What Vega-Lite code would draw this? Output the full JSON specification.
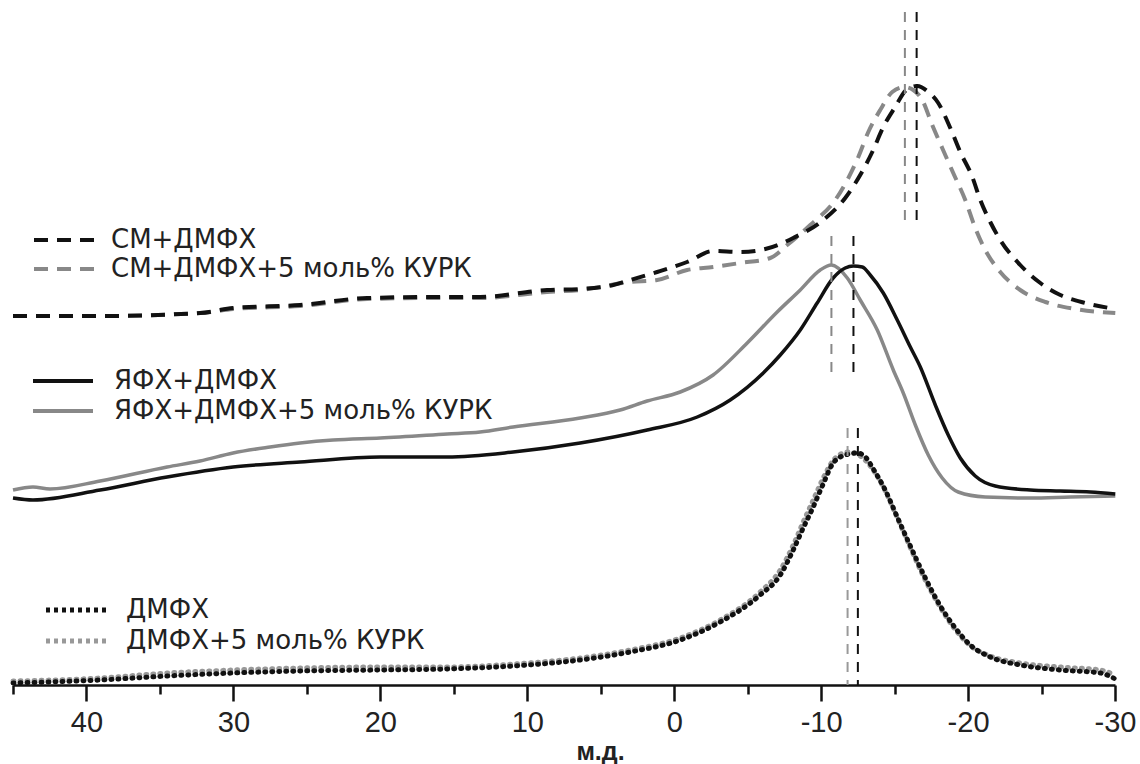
{
  "$schema": "https://vega.github.io/schema/vega-lite/v6.json",
  "width": 1102,
  "height": 685,
  "autosize": {"type": "none"},
  "padding": {"left": 13, "top": 0, "right": 25, "bottom": 79},
  "background": "white",
  "config": {"view": {"stroke": null}},
  "datasets": {
    "spectra": [
      {"g":"A","series":"СМ+ДМФХ+5 моль% КУРК","ppm":45.0,"intensity":369},
      {"g":"A","series":"СМ+ДМФХ+5 моль% КУРК","ppm":39.07,"intensity":369},
      {"g":"A","series":"СМ+ДМФХ+5 моль% КУРК","ppm":32.27,"intensity":372},
      {"g":"A","series":"СМ+ДМФХ+5 моль% КУРК","ppm":30.02,"intensity":376},
      {"g":"A","series":"СМ+ДМФХ+5 моль% КУРК","ppm":25.46,"intensity":379},
      {"g":"A","series":"СМ+ДМФХ+5 моль% КУРК","ppm":20.9,"intensity":386},
      {"g":"A","series":"СМ+ДМФХ+5 моль% КУРК","ppm":16.61,"intensity":387},
      {"g":"A","series":"СМ+ДМФХ+5 моль% КУРК","ppm":13.21,"intensity":387},
      {"g":"A","series":"СМ+ДМФХ+5 моль% КУРК","ppm":8.65,"intensity":393},
      {"g":"A","series":"СМ+ДМФХ+5 моль% КУРК","ppm":6.4,"intensity":395},
      {"g":"A","series":"СМ+ДМФХ+5 моль% КУРК","ppm":3.0,"intensity":403},
      {"g":"A","series":"СМ+ДМФХ+5 моль% КУРК","ppm":1.16,"intensity":405},
      {"g":"A","series":"СМ+ДМФХ+5 моль% КУРК","ppm":-0.88,"intensity":415},
      {"g":"A","series":"СМ+ДМФХ+5 моль% КУРК","ppm":-2.65,"intensity":418},
      {"g":"A","series":"СМ+ДМФХ+5 моль% КУРК","ppm":-4.49,"intensity":422},
      {"g":"A","series":"СМ+ДМФХ+5 моль% КУРК","ppm":-6.54,"intensity":427},
      {"g":"A","series":"СМ+ДМФХ+5 моль% КУРК","ppm":-7.69,"intensity":440},
      {"g":"A","series":"СМ+ДМФХ+5 моль% КУРК","ppm":-9.26,"intensity":460},
      {"g":"A","series":"СМ+ДМФХ+5 моль% КУРК","ppm":-10.96,"intensity":485},
      {"g":"A","series":"СМ+ДМФХ+5 моль% КУРК","ppm":-11.78,"intensity":505},
      {"g":"A","series":"СМ+ДМФХ+5 моль% КУРК","ppm":-12.53,"intensity":528},
      {"g":"A","series":"СМ+ДМФХ+5 моль% КУРК","ppm":-13.21,"intensity":553},
      {"g":"A","series":"СМ+ДМФХ+5 моль% КУРК","ppm":-14.02,"intensity":575},
      {"g":"A","series":"СМ+ДМФХ+5 моль% КУРК","ppm":-14.84,"intensity":593},
      {"g":"A","series":"СМ+ДМФХ+5 моль% КУРК","ppm":-15.66,"intensity":598},
      {"g":"A","series":"СМ+ДМФХ+5 моль% КУРК","ppm":-16.27,"intensity":595},
      {"g":"A","series":"СМ+ДМФХ+5 моль% КУРК","ppm":-16.88,"intensity":585},
      {"g":"A","series":"СМ+ДМФХ+5 моль% КУРК","ppm":-17.56,"intensity":560},
      {"g":"A","series":"СМ+ДМФХ+5 моль% КУРК","ppm":-18.24,"intensity":537},
      {"g":"A","series":"СМ+ДМФХ+5 моль% КУРК","ppm":-18.99,"intensity":512},
      {"g":"A","series":"СМ+ДМФХ+5 моль% КУРК","ppm":-19.81,"intensity":485},
      {"g":"A","series":"СМ+ДМФХ+5 моль% КУРК","ppm":-20.49,"intensity":457},
      {"g":"A","series":"СМ+ДМФХ+5 моль% КУРК","ppm":-21.17,"intensity":435},
      {"g":"A","series":"СМ+ДМФХ+5 моль% КУРК","ppm":-22.19,"intensity":413},
      {"g":"A","series":"СМ+ДМФХ+5 моль% КУРК","ppm":-23.55,"intensity":395},
      {"g":"A","series":"СМ+ДМФХ+5 моль% КУРК","ppm":-25.26,"intensity":383},
      {"g":"A","series":"СМ+ДМФХ+5 моль% КУРК","ppm":-27.3,"intensity":376},
      {"g":"A","series":"СМ+ДМФХ+5 моль% КУРК","ppm":-30.02,"intensity":372},

      {"g":"A","series":"СМ+ДМФХ","ppm":45.0,"intensity":369},
      {"g":"A","series":"СМ+ДМФХ","ppm":39.07,"intensity":369},
      {"g":"A","series":"СМ+ДМФХ","ppm":32.27,"intensity":372},
      {"g":"A","series":"СМ+ДМФХ","ppm":30.02,"intensity":377},
      {"g":"A","series":"СМ+ДМФХ","ppm":25.46,"intensity":380},
      {"g":"A","series":"СМ+ДМФХ","ppm":20.9,"intensity":387},
      {"g":"A","series":"СМ+ДМФХ","ppm":16.61,"intensity":388},
      {"g":"A","series":"СМ+ДМФХ","ppm":13.21,"intensity":388},
      {"g":"A","series":"СМ+ДМФХ","ppm":8.65,"intensity":395},
      {"g":"A","series":"СМ+ДМФХ","ppm":6.4,"intensity":396},
      {"g":"A","series":"СМ+ДМФХ","ppm":4.15,"intensity":400},
      {"g":"A","series":"СМ+ДМФХ","ppm":3.0,"intensity":405},
      {"g":"A","series":"СМ+ДМФХ","ppm":1.16,"intensity":413},
      {"g":"A","series":"СМ+ДМФХ","ppm":-0.88,"intensity":423},
      {"g":"A","series":"СМ+ДМФХ","ppm":-2.65,"intensity":434},
      {"g":"A","series":"СМ+ДМФХ","ppm":-4.49,"intensity":433},
      {"g":"A","series":"СМ+ДМФХ","ppm":-6.2,"intensity":436},
      {"g":"A","series":"СМ+ДМФХ","ppm":-8.1,"intensity":447},
      {"g":"A","series":"СМ+ДМФХ","ppm":-10.14,"intensity":465},
      {"g":"A","series":"СМ+ДМФХ","ppm":-11.64,"intensity":487},
      {"g":"A","series":"СМ+ДМФХ","ppm":-12.66,"intensity":510},
      {"g":"A","series":"СМ+ДМФХ","ppm":-13.48,"intensity":533},
      {"g":"A","series":"СМ+ДМФХ","ppm":-14.23,"intensity":558},
      {"g":"A","series":"СМ+ДМФХ","ppm":-15.04,"intensity":578},
      {"g":"A","series":"СМ+ДМФХ","ppm":-15.79,"intensity":595},
      {"g":"A","series":"СМ+ДМФХ","ppm":-16.54,"intensity":599},
      {"g":"A","series":"СМ+ДМФХ","ppm":-17.29,"intensity":593},
      {"g":"A","series":"СМ+ДМФХ","ppm":-17.97,"intensity":582},
      {"g":"A","series":"СМ+ДМФХ","ppm":-18.79,"intensity":557},
      {"g":"A","series":"СМ+ДМФХ","ppm":-19.47,"intensity":533},
      {"g":"A","series":"СМ+ДМФХ","ppm":-20.29,"intensity":508},
      {"g":"A","series":"СМ+ДМФХ","ppm":-20.83,"intensity":485},
      {"g":"A","series":"СМ+ДМФХ","ppm":-21.51,"intensity":463},
      {"g":"A","series":"СМ+ДМФХ","ppm":-22.19,"intensity":445},
      {"g":"A","series":"СМ+ДМФХ","ppm":-23.55,"intensity":420},
      {"g":"A","series":"СМ+ДМФХ","ppm":-24.92,"intensity":402},
      {"g":"A","series":"СМ+ДМФХ","ppm":-26.28,"intensity":390},
      {"g":"A","series":"СМ+ДМФХ","ppm":-27.98,"intensity":382},
      {"g":"A","series":"СМ+ДМФХ","ppm":-30.02,"intensity":376},

      {"g":"B","series":"ЯФХ+ДМФХ+5 моль% КУРК","ppm":45.0,"intensity":195},
      {"g":"B","series":"ЯФХ+ДМФХ+5 моль% КУРК","ppm":43.64,"intensity":198},
      {"g":"B","series":"ЯФХ+ДМФХ+5 моль% КУРК","ppm":42.48,"intensity":196},
      {"g":"B","series":"ЯФХ+ДМФХ+5 моль% КУРК","ppm":39.07,"intensity":204},
      {"g":"B","series":"ЯФХ+ДМФХ+5 моль% КУРК","ppm":34.51,"intensity":218},
      {"g":"B","series":"ЯФХ+ДМФХ+5 моль% КУРК","ppm":32.27,"intensity":224},
      {"g":"B","series":"ЯФХ+ДМФХ+5 моль% КУРК","ppm":30.02,"intensity":232},
      {"g":"B","series":"ЯФХ+ДМФХ+5 моль% КУРК","ppm":27.5,"intensity":238},
      {"g":"B","series":"ЯФХ+ДМФХ+5 моль% КУРК","ppm":25.46,"intensity":242},
      {"g":"B","series":"ЯФХ+ДМФХ+5 моль% КУРК","ppm":23.21,"intensity":245},
      {"g":"B","series":"ЯФХ+ДМФХ+5 моль% КУРК","ppm":20.01,"intensity":247},
      {"g":"B","series":"ЯФХ+ДМФХ+5 моль% КУРК","ppm":15.45,"intensity":251},
      {"g":"B","series":"ЯФХ+ДМФХ+5 моль% КУРК","ppm":13.21,"intensity":253},
      {"g":"B","series":"ЯФХ+ДМФХ+5 моль% КУРК","ppm":10.96,"intensity":258},
      {"g":"B","series":"ЯФХ+ДМФХ+5 моль% КУРК","ppm":6.4,"intensity":267},
      {"g":"B","series":"ЯФХ+ДМФХ+5 моль% КУРК","ppm":3.68,"intensity":275},
      {"g":"B","series":"ЯФХ+ДМФХ+5 моль% КУРК","ppm":1.84,"intensity":284},
      {"g":"B","series":"ЯФХ+ДМФХ+5 моль% КУРК","ppm":-0.41,"intensity":293},
      {"g":"B","series":"ЯФХ+ДМФХ+5 моль% КУРК","ppm":-2.65,"intensity":310},
      {"g":"B","series":"ЯФХ+ДМФХ+5 моль% КУРК","ppm":-4.97,"intensity":342},
      {"g":"B","series":"ЯФХ+ДМФХ+5 моль% КУРК","ppm":-7.01,"intensity":373},
      {"g":"B","series":"ЯФХ+ДМФХ+5 моль% КУРК","ppm":-8.58,"intensity":395},
      {"g":"B","series":"ЯФХ+ДМФХ+5 моль% КУРК","ppm":-9.94,"intensity":415},
      {"g":"B","series":"ЯФХ+ДМФХ+5 моль% КУРК","ppm":-10.69,"intensity":420},
      {"g":"B","series":"ЯФХ+ДМФХ+5 моль% КУРК","ppm":-11.78,"intensity":407},
      {"g":"B","series":"ЯФХ+ДМФХ+5 моль% КУРК","ppm":-12.66,"intensity":385},
      {"g":"B","series":"ЯФХ+ДМФХ+5 моль% КУРК","ppm":-13.82,"intensity":355},
      {"g":"B","series":"ЯФХ+ДМФХ+5 моль% КУРК","ppm":-14.91,"intensity":315},
      {"g":"B","series":"ЯФХ+ДМФХ+5 моль% КУРК","ppm":-15.59,"intensity":292},
      {"g":"B","series":"ЯФХ+ДМФХ+5 моль% КУРК","ppm":-16.41,"intensity":260},
      {"g":"B","series":"ЯФХ+ДМФХ+5 моль% КУРК","ppm":-17.29,"intensity":230},
      {"g":"B","series":"ЯФХ+ДМФХ+5 моль% КУРК","ppm":-18.24,"intensity":207},
      {"g":"B","series":"ЯФХ+ДМФХ+5 моль% КУРК","ppm":-19.33,"intensity":193},
      {"g":"B","series":"ЯФХ+ДМФХ+5 моль% КУРК","ppm":-21.17,"intensity":188},
      {"g":"B","series":"ЯФХ+ДМФХ+5 моль% КУРК","ppm":-24.23,"intensity":187},
      {"g":"B","series":"ЯФХ+ДМФХ+5 моль% КУРК","ppm":-26.96,"intensity":188},
      {"g":"B","series":"ЯФХ+ДМФХ+5 моль% КУРК","ppm":-30.02,"intensity":189},

      {"g":"B","series":"ЯФХ+ДМФХ","ppm":45.0,"intensity":187},
      {"g":"B","series":"ЯФХ+ДМФХ","ppm":43.64,"intensity":185},
      {"g":"B","series":"ЯФХ+ДМФХ","ppm":39.07,"intensity":195},
      {"g":"B","series":"ЯФХ+ДМФХ","ppm":34.51,"intensity":208},
      {"g":"B","series":"ЯФХ+ДМФХ","ppm":30.02,"intensity":218},
      {"g":"B","series":"ЯФХ+ДМФХ","ppm":25.46,"intensity":223},
      {"g":"B","series":"ЯФХ+ДМФХ","ppm":20.01,"intensity":228},
      {"g":"B","series":"ЯФХ+ДМФХ","ppm":15.45,"intensity":228},
      {"g":"B","series":"ЯФХ+ДМФХ","ppm":10.96,"intensity":233},
      {"g":"B","series":"ЯФХ+ДМФХ","ppm":6.4,"intensity":242},
      {"g":"B","series":"ЯФХ+ДМФХ","ppm":1.84,"intensity":255},
      {"g":"B","series":"ЯФХ+ДМФХ","ppm":-1.57,"intensity":268},
      {"g":"B","series":"ЯФХ+ДМФХ","ppm":-3.81,"intensity":285},
      {"g":"B","series":"ЯФХ+ДМФХ","ppm":-6.06,"intensity":312},
      {"g":"B","series":"ЯФХ+ДМФХ","ppm":-7.22,"intensity":330},
      {"g":"B","series":"ЯФХ+ДМФХ","ppm":-8.58,"intensity":355},
      {"g":"B","series":"ЯФХ+ДМФХ","ppm":-9.73,"intensity":382},
      {"g":"B","series":"ЯФХ+ДМФХ","ppm":-10.82,"intensity":407},
      {"g":"B","series":"ЯФХ+ДМФХ","ppm":-11.64,"intensity":417},
      {"g":"B","series":"ЯФХ+ДМФХ","ppm":-12.19,"intensity":419},
      {"g":"B","series":"ЯФХ+ДМФХ","ppm":-12.8,"intensity":418},
      {"g":"B","series":"ЯФХ+ДМФХ","ppm":-13.34,"intensity":410},
      {"g":"B","series":"ЯФХ+ДМФХ","ppm":-14.23,"intensity":392},
      {"g":"B","series":"ЯФХ+ДМФХ","ppm":-15.18,"intensity":365},
      {"g":"B","series":"ЯФХ+ДМФХ","ppm":-16.07,"intensity":338},
      {"g":"B","series":"ЯФХ+ДМФХ","ppm":-16.75,"intensity":318},
      {"g":"B","series":"ЯФХ+ДМФХ","ppm":-17.77,"intensity":280},
      {"g":"B","series":"ЯФХ+ДМФХ","ppm":-18.65,"intensity":250},
      {"g":"B","series":"ЯФХ+ДМФХ","ppm":-19.47,"intensity":227},
      {"g":"B","series":"ЯФХ+ДМФХ","ppm":-20.49,"intensity":209},
      {"g":"B","series":"ЯФХ+ДМФХ","ppm":-21.85,"intensity":199},
      {"g":"B","series":"ЯФХ+ДМФХ","ppm":-24.23,"intensity":195},
      {"g":"B","series":"ЯФХ+ДМФХ","ppm":-26.28,"intensity":194},
      {"g":"B","series":"ЯФХ+ДМФХ","ppm":-28.32,"intensity":193},
      {"g":"B","series":"ЯФХ+ДМФХ","ppm":-30.02,"intensity":191},

      {"g":"C","series":"ДМФХ+5 моль% КУРК","ppm":45.0,"intensity":4},
      {"g":"C","series":"ДМФХ+5 моль% КУРК","ppm":39.07,"intensity":7},
      {"g":"C","series":"ДМФХ+5 моль% КУРК","ppm":34.51,"intensity":12},
      {"g":"C","series":"ДМФХ+5 моль% КУРК","ppm":30.02,"intensity":15},
      {"g":"C","series":"ДМФХ+5 моль% КУРК","ppm":25.46,"intensity":17},
      {"g":"C","series":"ДМФХ+5 моль% КУРК","ppm":20.01,"intensity":18},
      {"g":"C","series":"ДМФХ+5 моль% КУРК","ppm":15.45,"intensity":18},
      {"g":"C","series":"ДМФХ+5 моль% КУРК","ppm":10.96,"intensity":21},
      {"g":"C","series":"ДМФХ+5 моль% КУРК","ppm":6.4,"intensity":27},
      {"g":"C","series":"ДМФХ+5 моль% КУРК","ppm":3.0,"intensity":35},
      {"g":"C","series":"ДМФХ+5 моль% КУРК","ppm":-0.41,"intensity":47},
      {"g":"C","series":"ДМФХ+5 моль% КУРК","ppm":-3.13,"intensity":65},
      {"g":"C","series":"ДМФХ+5 моль% КУРК","ppm":-5.85,"intensity":93},
      {"g":"C","series":"ДМФХ+5 моль% КУРК","ppm":-7.22,"intensity":115},
      {"g":"C","series":"ДМФХ+5 моль% КУРК","ppm":-8.1,"intensity":140},
      {"g":"C","series":"ДМФХ+5 моль% КУРК","ppm":-8.78,"intensity":163},
      {"g":"C","series":"ДМФХ+5 моль% КУРК","ppm":-9.46,"intensity":185},
      {"g":"C","series":"ДМФХ+5 моль% КУРК","ppm":-10.14,"intensity":207},
      {"g":"C","series":"ДМФХ+5 моль% КУРК","ppm":-10.96,"intensity":227},
      {"g":"C","series":"ДМФХ+5 моль% КУРК","ppm":-11.84,"intensity":233},
      {"g":"C","series":"ДМФХ+5 моль% КУРК","ppm":-12.66,"intensity":229},
      {"g":"C","series":"ДМФХ+5 моль% КУРК","ppm":-13.34,"intensity":219},
      {"g":"C","series":"ДМФХ+5 моль% КУРК","ppm":-14.23,"intensity":198},
      {"g":"C","series":"ДМФХ+5 моль% КУРК","ppm":-15.04,"intensity":172},
      {"g":"C","series":"ДМФХ+5 моль% КУРК","ppm":-15.93,"intensity":142},
      {"g":"C","series":"ДМФХ+5 моль% КУРК","ppm":-16.95,"intensity":109},
      {"g":"C","series":"ДМФХ+5 моль% КУРК","ppm":-17.97,"intensity":81},
      {"g":"C","series":"ДМФХ+5 моль% КУРК","ppm":-18.99,"intensity":58},
      {"g":"C","series":"ДМФХ+5 моль% КУРК","ppm":-20.01,"intensity":41},
      {"g":"C","series":"ДМФХ+5 моль% КУРК","ppm":-21.51,"intensity":29},
      {"g":"C","series":"ДМФХ+5 моль% КУРК","ppm":-23.55,"intensity":22},
      {"g":"C","series":"ДМФХ+5 моль% КУРК","ppm":-26.28,"intensity":18},
      {"g":"C","series":"ДМФХ+5 моль% КУРК","ppm":-29.0,"intensity":15},
      {"g":"C","series":"ДМФХ+5 моль% КУРК","ppm":-30.02,"intensity":10},

      {"g":"C","series":"ДМФХ","ppm":45.0,"intensity":2},
      {"g":"C","series":"ДМФХ","ppm":39.07,"intensity":5},
      {"g":"C","series":"ДМФХ","ppm":34.51,"intensity":9},
      {"g":"C","series":"ДМФХ","ppm":30.02,"intensity":12},
      {"g":"C","series":"ДМФХ","ppm":25.46,"intensity":14},
      {"g":"C","series":"ДМФХ","ppm":20.01,"intensity":15},
      {"g":"C","series":"ДМФХ","ppm":15.45,"intensity":16},
      {"g":"C","series":"ДМФХ","ppm":10.96,"intensity":19},
      {"g":"C","series":"ДМФХ","ppm":6.4,"intensity":25},
      {"g":"C","series":"ДМФХ","ppm":3.0,"intensity":33},
      {"g":"C","series":"ДМФХ","ppm":-0.41,"intensity":45},
      {"g":"C","series":"ДМФХ","ppm":-3.13,"intensity":63},
      {"g":"C","series":"ДМФХ","ppm":-5.85,"intensity":90},
      {"g":"C","series":"ДМФХ","ppm":-7.22,"intensity":110},
      {"g":"C","series":"ДМФХ","ppm":-8.1,"intensity":135},
      {"g":"C","series":"ДМФХ","ppm":-8.78,"intensity":157},
      {"g":"C","series":"ДМФХ","ppm":-9.46,"intensity":178},
      {"g":"C","series":"ДМФХ","ppm":-10.14,"intensity":201},
      {"g":"C","series":"ДМФХ","ppm":-10.82,"intensity":222},
      {"g":"C","series":"ДМФХ","ppm":-11.64,"intensity":230},
      {"g":"C","series":"ДМФХ","ppm":-12.46,"intensity":232},
      {"g":"C","series":"ДМФХ","ppm":-13.07,"intensity":227},
      {"g":"C","series":"ДМФХ","ppm":-13.55,"intensity":216},
      {"g":"C","series":"ДМФХ","ppm":-14.36,"intensity":195},
      {"g":"C","series":"ДМФХ","ppm":-15.18,"intensity":168},
      {"g":"C","series":"ДМФХ","ppm":-16.07,"intensity":139},
      {"g":"C","series":"ДМФХ","ppm":-17.09,"intensity":107},
      {"g":"C","series":"ДМФХ","ppm":-18.11,"intensity":79},
      {"g":"C","series":"ДМФХ","ppm":-19.13,"intensity":57},
      {"g":"C","series":"ДМФХ","ppm":-20.15,"intensity":40},
      {"g":"C","series":"ДМФХ","ppm":-21.51,"intensity":28},
      {"g":"C","series":"ДМФХ","ppm":-23.55,"intensity":20},
      {"g":"C","series":"ДМФХ","ppm":-26.28,"intensity":15},
      {"g":"C","series":"ДМФХ","ppm":-29.0,"intensity":12},
      {"g":"C","series":"ДМФХ","ppm":-30.02,"intensity":6}
    ],
    "peaks": [
      {"g":"A","series":"СМ+ДМФХ","ppm":-16.5,"top":673,"bottom":457},
      {"g":"A","series":"СМ+ДМФХ+5 моль% КУРК","ppm":-15.7,"top":673,"bottom":457},
      {"g":"B","series":"ЯФХ+ДМФХ","ppm":-12.2,"top":449,"bottom":307},
      {"g":"B","series":"ЯФХ+ДМФХ+5 моль% КУРК","ppm":-10.7,"top":449,"bottom":307},
      {"g":"C","series":"ДМФХ","ppm":-12.5,"top":257,"bottom":0},
      {"g":"C","series":"ДМФХ+5 моль% КУРК","ppm":-11.8,"top":257,"bottom":0}
    ]
  },
  "encoding": {
    "x": {
      "field": "ppm", "type": "quantitative",
      "scale": {"domain": [-30, 45], "reverse": true, "nice": false, "zero": false},
      "axis": {
        "title": "м.д.",
        "values": [45, 40, 35, 30, 25, 20, 15, 10, 5, 0, -5, -10, -15, -20, -25, -30],
        "labelExpr": "datum.value % 10 === 0 ? '' + datum.value : ''",
        "labelFont": "Liberation Sans", "labelFontSize": 29, "labelColor": "#222",
        "labelPadding": 7, "labelFlush": false, "labelOverlap": false,
        "tickSize": {"condition": {"test": "datum.value % 10 === 0", "value": 16}, "value": 9},
        "tickWidth": 2.5, "tickColor": "#111",
        "domainColor": "#111", "domainWidth": 2.5,
        "grid": false,
        "titleFont": "Liberation Sans", "titleFontSize": 25, "titleFontWeight": "bold", "titleColor": "#222",
        "titleX": 587, "titleY": 74, "titleAlign": "center", "titleBaseline": "alphabetic"
      }
    },
    "y": {
      "field": "intensity", "type": "quantitative",
      "scale": {"domain": [0, 685], "nice": false, "zero": false},
      "axis": null
    }
  },
  "layer": [
    {
      "layer": [
        {
          "data": {"name": "spectra"},
          "transform": [{"filter": "datum.g === 'A'"}],
          "mark": {"type": "line", "strokeWidth": 4, "strokeDash": [14, 9], "interpolate": "monotone"},
          "encoding": {
            "stroke": {
              "field": "series", "type": "nominal",
              "scale": {"domain": ["СМ+ДМФХ", "СМ+ДМФХ+5 моль% КУРК"], "range": ["#111111", "#888888"]},
              "legend": {"orient": "none", "legendX": 38, "legendY": 227, "title": null, "padding": 0,
                "symbolType": "M-3,0H3", "symbolSize": 400, "symbolStrokeWidth": 4, "symbolDash": [14, 9],
                "labelFont": "DejaVu Sans", "labelFontSize": 26, "labelColor": "#222", "labelOffset": 34,
                "labelLimit": 0, "rowPadding": 3}
            }
          }
        },
        {
          "data": {"name": "peaks"},
          "transform": [{"filter": "datum.g === 'A'"}],
          "mark": {"type": "rule", "strokeWidth": 2, "strokeDash": [10, 8]},
          "encoding": {
            "y": {"field": "top", "type": "quantitative"},
            "y2": {"field": "bottom"},
            "stroke": {"field": "series", "type": "nominal", "legend": null}
          }
        }
      ]
    },
    {
      "layer": [
        {
          "data": {"name": "spectra"},
          "transform": [{"filter": "datum.g === 'B'"}],
          "mark": {"type": "line", "strokeWidth": 3.5, "interpolate": "monotone"},
          "encoding": {
            "stroke": {
              "field": "series", "type": "nominal",
              "scale": {"domain": ["ЯФХ+ДМФХ", "ЯФХ+ДМФХ+5 моль% КУРК"], "range": ["#111111", "#888888"]},
              "legend": {"orient": "none", "legendX": 37, "legendY": 368, "title": null, "padding": 0,
                "symbolType": "M-3,0H3", "symbolSize": 400, "symbolStrokeWidth": 4,
                "labelFont": "DejaVu Sans", "labelFontSize": 26, "labelColor": "#222", "labelOffset": 38,
                "labelLimit": 0, "rowPadding": 4}
            }
          }
        },
        {
          "data": {"name": "peaks"},
          "transform": [{"filter": "datum.g === 'B'"}],
          "mark": {"type": "rule", "strokeWidth": 2, "strokeDash": [10, 8]},
          "encoding": {
            "y": {"field": "top", "type": "quantitative"},
            "y2": {"field": "bottom"},
            "stroke": {"field": "series", "type": "nominal", "legend": null}
          }
        }
      ]
    },
    {
      "layer": [
        {
          "data": {"name": "spectra"},
          "transform": [{"filter": "datum.g === 'C'"}],
          "mark": {"type": "line", "strokeWidth": 5, "strokeDash": [1, 6], "strokeCap": "round", "interpolate": "monotone"},
          "encoding": {
            "stroke": {
              "field": "series", "type": "nominal",
              "scale": {"domain": ["ДМФХ", "ДМФХ+5 моль% КУРК"], "range": ["#111111", "#999999"]},
              "legend": {"orient": "none", "legendX": 50, "legendY": 597, "title": null, "padding": 0,
                "symbolType": "M-3,0H3", "symbolSize": 400, "symbolStrokeWidth": 5, "symbolDash": [4, 4],
                "labelFont": "DejaVu Sans", "labelFontSize": 26, "labelColor": "#222", "labelOffset": 37,
                "labelLimit": 0, "rowPadding": 5}
            }
          }
        },
        {
          "data": {"name": "peaks"},
          "transform": [{"filter": "datum.g === 'C'"}],
          "mark": {"type": "rule", "strokeWidth": 2, "strokeDash": [10, 8]},
          "encoding": {
            "y": {"field": "top", "type": "quantitative"},
            "y2": {"field": "bottom"},
            "stroke": {"field": "series", "type": "nominal", "legend": null}
          }
        }
      ]
    }
  ],
  "resolve": {"scale": {"stroke": "independent"}}
}
